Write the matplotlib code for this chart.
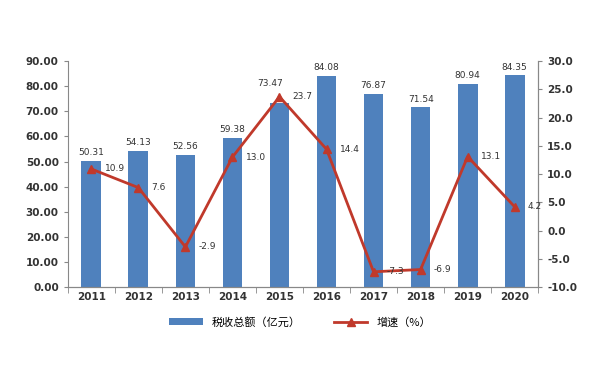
import matplotlib.pyplot as plt
import numpy as np

plt.rcParams['font.family'] = ['DejaVu Sans', 'Noto Sans CJK SC']

years = ['2011', '2012', '2013', '2014', '2015', '2016', '2017', '2018', '2019', '2020']
tax = [50.31, 54.13, 52.56, 59.38, 73.47, 84.08, 76.87, 71.54, 80.94, 84.35]
growth = [10.9, 7.6, -2.9, 13.0, 23.7, 14.4, -7.3, -6.9, 13.1, 4.2]

bar_color = '#4F81BD'
line_color = '#C0392B'

fig = plt.figure(figsize=(6, 3.68), dpi=100)
ax = fig.add_axes([0.113, 0.22, 0.784, 0.614])
ax2 = ax.twinx()

x = np.arange(len(years))
bars = ax.bar(x, tax, width=0.42, color=bar_color)
for xi, v in zip(x, tax):
    if years[xi] == '2015':
        ax.text(xi - 0.2, v + 6, f'{v:.2f}', ha='center', va='bottom', fontsize=6.5, color='#333333')
    else:
        ax.text(xi, v + 1.5, f'{v:.2f}', ha='center', va='bottom', fontsize=6.5, color='#333333')

line, = ax2.plot(x, growth, color=line_color, lw=2, marker='^', ms=6)
for xi, v in zip(x, growth):
    ax2.text(xi + 0.28, v, f'{v:.1f}', ha='left', va='center', fontsize=6.5, color='#333333')

ax.set_xlim(-0.5, len(years) - 0.5)
ax.set_ylim(0, 90)
ax.set_yticks(np.arange(0, 91, 10))
ax.set_yticklabels([f'{t:.2f}' for t in np.arange(0, 91, 10)])
ax2.set_ylim(-10, 30)
ax2.set_yticks(np.arange(-10, 31, 5))
ax2.set_yticklabels([f'{t:.1f}' for t in np.arange(-10, 31, 5)])
ax.set_xticks(x)
ax.set_xticklabels(years)

for a in (ax, ax2):
    a.spines['top'].set_visible(False)
    for s in ('left', 'right', 'bottom'):
        a.spines[s].set_color('#888888')
    a.tick_params(labelsize=7.5, colors='#333333', length=3, color='#888888')
ax2.spines['left'].set_visible(False)
ax.tick_params(axis='x', length=0)
ax.set_xticks(np.arange(-0.5, len(years), 1), minor=True)
ax.tick_params(axis='x', which='minor', length=4, color='#888888')
for lbl in ax.get_xticklabels() + ax.get_yticklabels() + ax2.get_yticklabels():
    lbl.set_fontweight('bold')

fig.legend([bars, line], ['税收总额（亿元）', '增速（%）'], loc='center', bbox_to_anchor=(0.5, 0.125),
           ncol=2, frameon=False, handlelength=3, columnspacing=3,
           prop={'family': ['Noto Sans CJK SC', 'DejaVu Sans'], 'size': 8})

fig.savefig('out.png', dpi=100)
